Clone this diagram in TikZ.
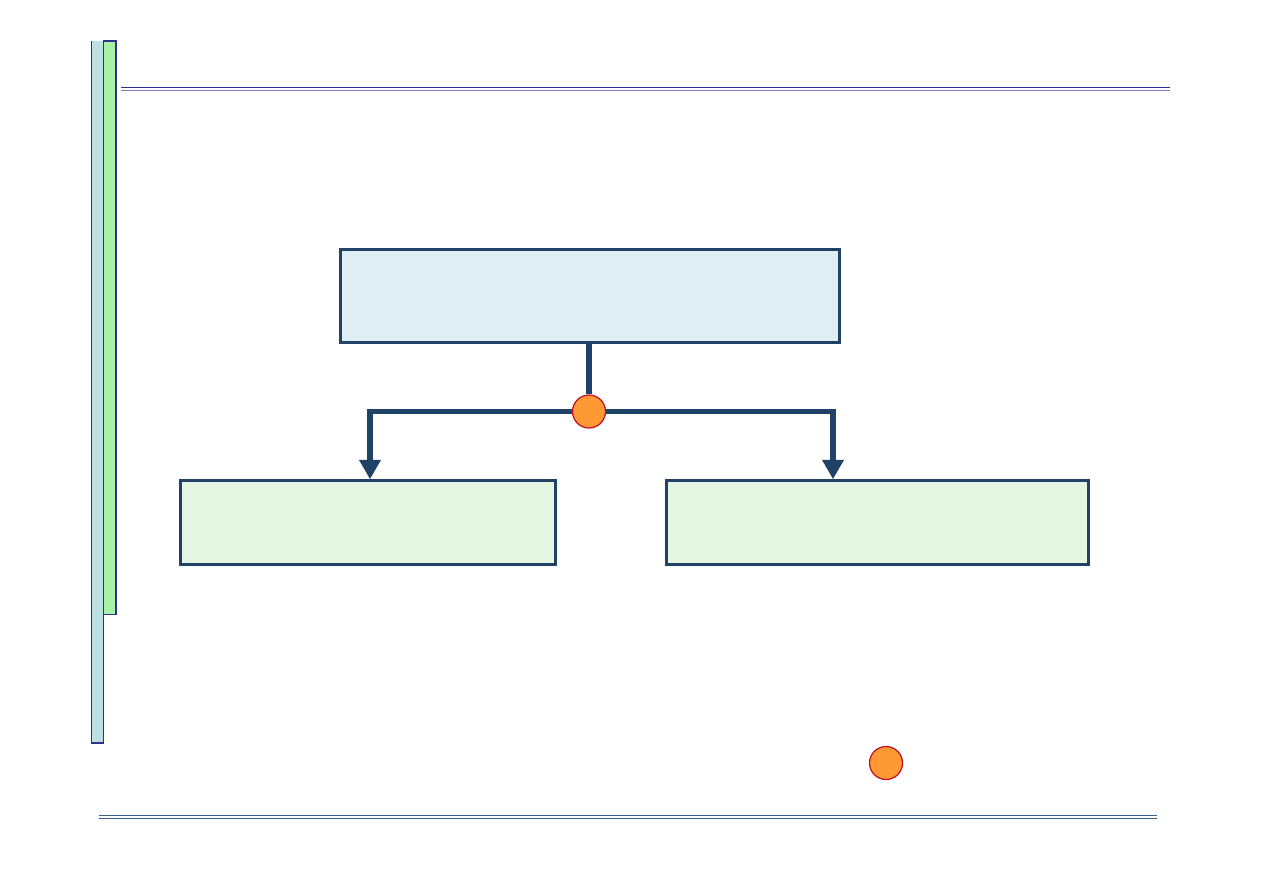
\documentclass[tikz,border=0pt]{standalone}
\usepackage{xcolor}
\usepackage{tikz}
\usetikzlibrary{arrows.meta,positioning,calc}
\definecolor{navy}{HTML}{1F4266}
\definecolor{rulebl}{HTML}{2E3192}
\definecolor{rulelt}{HTML}{7A7CC0}
\definecolor{steel}{HTML}{3A6190}
\definecolor{paleblue}{HTML}{E0EEF4}
\definecolor{palegreen}{HTML}{E4F5E1}
\definecolor{barcyan}{HTML}{BDE1E3}
\definecolor{bargreen}{HTML}{A6F2A6}
\definecolor{dotfill}{HTML}{FF9933}
\definecolor{dotedge}{HTML}{C0102A}
\tikzset{
  topbox/.style ={draw=navy,line width=1.8pt,fill=paleblue,minimum width=9.98cm,
                  minimum height=1.86cm,inner sep=0pt},
  leafbox/.style={draw=navy,line width=1.8pt,fill=palegreen,minimum height=1.68cm,
                  inner sep=0pt},
  dot/.style    ={circle,draw=dotedge,line width=0.7pt,fill=dotfill,
                  minimum size=0.66cm,inner sep=0pt},
  bar/.style    ={draw=rulebl,line width=0.9pt},
  link/.style   ={line width=2.9pt,draw=navy},
  flow/.style   ={-{Triangle[length=3.8mm,width=4.4mm,line width=0pt]},line width=2.9pt,
                  draw=navy,miter limit=2}
}

\begin{document}
\begin{tikzpicture}[x=0.02cm,y=-0.02cm]
    \useasboundingbox (0,0) rectangle (1263,893);
    % side bars and rules
    \fill[barcyan] (91,41) rectangle (104,744);
    \draw[bar] (91.5,41) -- (91.5,744);
    \draw[bar] (103.5,41) -- (103.5,744);
    \draw[rulebl,line width=1.6pt] (91,743) -- (104,743);
    \filldraw[fill=bargreen,draw=rulebl,line width=0.9pt] (103.5,41) rectangle (116,614.5);
    \draw[rulebl,line width=0.9pt] (121,87.5) -- (1170,87.5);
    \draw[rulelt,line width=0.9pt] (121,90.5) -- (1170,90.5);
    \draw[steel,line width=1pt] (99,815.5) -- (1157,815.5);
    \draw[steel,line width=1pt] (99,818.5) -- (1157,818.5);
    % boxes
    \node[topbox] (root) at (590,296) {};
    \node[leafbox,minimum width=7.5cm] (lbox) at (368,522.5) {};
    \node[leafbox,minimum width=8.44cm] (rbox) at (877.5,522.5) {};
    \node[dot] (hub) at (589,411.5) {};
    \node[dot] (mark) at (886,763) {};
    \coordinate (lj) at (370,411.5);
    \coordinate (rj) at (833,411.5);
    % connectors
    \draw[link] (root.south -| hub) -- (hub.north);
    \draw[flow] (hub.west) -- (lj) -- (lj |- lbox.north);
    \draw[flow] (hub.east) -- (rj) -- (rj |- rbox.north);
  \end{tikzpicture}
\end{document}
